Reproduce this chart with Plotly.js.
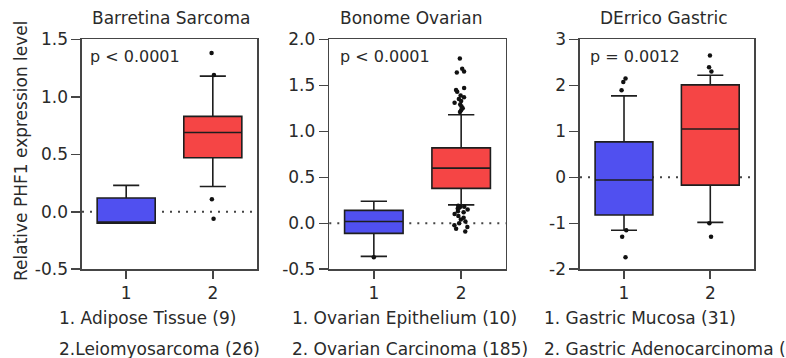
<!DOCTYPE html>
<html>
<head>
<meta charset="utf-8">
<script src="https://cdn.plot.ly/plotly-3.0.1.min.js"></script>
<style>
  html, body { margin: 0; padding: 0; background: #fff; }
  #chart { width: 786px; height: 358px; }
</style>
</head>
<body>
<div id="chart"></div>
<script>
// ---------- data ----------
const categories = [1, 2];
const tickLabels = ['1', '2'];
const panelTitles = ['Barretina Sarcoma', 'Bonome Ovarian', 'DErrico Gastric'];
const pValueTexts = ['p < 0.0001', 'p < 0.0001', 'p = 0.0012'];
const yAxisTitle = 'Relative PHF1 expression level';
const groupLabels1 = ['1. Adipose Tissue (9)', '1. Ovarian Epithelium (10)', '1. Gastric Mucosa (31)'];
const groupLabels2 = ['2.Leiomyosarcoma (26)', '2. Ovarian Carcinoma (185)', '2. Gastric Adenocarcinoma ('];

// Barretina Sarcoma (category 1, category 2)
const barretinaLower  = [-0.10, 0.22];
const barretinaQ1     = [-0.10, 0.47];
const barretinaMedian = [-0.09, 0.69];
const barretinaQ3     = [0.12, 0.83];
const barretinaUpper  = [0.23, 1.18];
const barretinaOutliers1 = [];
const barretinaOutliers2 = [1.38, 1.19, 0.11, -0.06];

// Bonome Ovarian
const bonomeLower  = [-0.36, 0.20];
const bonomeQ1     = [-0.11, 0.38];
const bonomeMedian = [0.02, 0.60];
const bonomeQ3     = [0.14, 0.82];
const bonomeUpper  = [0.24, 1.18];
const bonomeOutliers1 = [-0.37];
const bonomeOutliers2 = [1.79, 1.68, 1.65, 1.64, 1.47, 1.45, 1.43, 1.39, 1.37, 1.35, 1.33, 1.31, 1.29, 1.27, 1.25, 1.23, 1.21,
                         0.19, 0.18, 0.18, 0.17, 0.16, 0.15, 0.13, 0.12, 0.10, 0.08, 0.06, 0.04, 0.02, 0.00, -0.02, -0.04, -0.06, -0.09];

// DErrico Gastric
const derricoLower  = [-1.15, -0.98];
const derricoQ1     = [-0.82, -0.17];
const derricoMedian = [-0.06, 1.05];
const derricoQ3     = [0.77, 2.01];
const derricoUpper  = [1.77, 2.22];
const derricoOutliers1 = [2.15, 2.07, 1.89, -1.15, -1.29, -1.74];
const derricoOutliers2 = [2.65, 2.39, 2.30, -1.00, -1.29];

const yRanges = [[-0.5, 1.5], [-0.5, 2.0], [-2, 3]];
const yTicks = [[-0.5, 0, 0.5, 1.0, 1.5], [-0.5, 0, 0.5, 1.0, 1.5, 2.0], [-2, -1, 0, 1, 2, 3]];
const yTickText = [['-0.5', '0.0', '0.5', '1.0', '1.5'], ['-0.5', '0.0', '0.5', '1.0', '1.5', '2.0'], ['-2', '-1', '0', '1', '2', '3']];

// ---------- styling ----------
const boxColors = ['#5050f0', '#f54545'];
const ink = '#2a2a2a';
const frame = '#454545';
const FONT = 'DejaVu Sans, Arial, sans-serif';
const W = 786, H = 358;
const xDomPx = [[82, 257], [329.3, 505.7], [580, 754.3]];
const yDomPx = [39.3, 269.3];
const titleXPx = [171, 410.5, 664];
const pTextXPx = [88, 338, 588];
const labelXPx = [57, 290, 542];

const panels = [
  {lo: barretinaLower, q1: barretinaQ1, med: barretinaMedian, q3: barretinaQ3, hi: barretinaUpper, out: [barretinaOutliers1, barretinaOutliers2], jit: [0, 0.05]},
  {lo: bonomeLower, q1: bonomeQ1, med: bonomeMedian, q3: bonomeQ3, hi: bonomeUpper, out: [bonomeOutliers1, bonomeOutliers2], jit: [0, 0.35]},
  {lo: derricoLower, q1: derricoQ1, med: derricoMedian, q3: derricoQ3, hi: derricoUpper, out: [derricoOutliers1, derricoOutliers2], jit: [0.1, 0.05]}
];

const traces = [];
const layout = {
  width: W, height: H,
  margin: {l: 0, r: 0, t: 0, b: 0},
  paper_bgcolor: '#fff', plot_bgcolor: '#fff',
  showlegend: false,
  boxmode: 'overlay',
  font: {family: FONT, size: 17, color: ink},
  annotations: [], shapes: []
};

panels.forEach((p, k) => {
  const sfx = k === 0 ? '' : String(k + 1);
  const xa = 'x' + sfx, ya = 'y' + sfx;
  categories.forEach((c, i) => {
    traces.push({
      type: 'box', xaxis: xa, yaxis: ya,
      x: [c], q1: [p.q1[i]], median: [p.med[i]], q3: [p.q3[i]],
      lowerfence: [p.lo[i]], upperfence: [p.hi[i]],
      fillcolor: boxColors[i], line: {color: '#1e1e1e', width: 1.6},
      width: 0.67, whiskerwidth: 0.45, boxpoints: false,
      hoverinfo: 'skip', showlegend: false
    });
    const outs = p.out[i];
    if (outs.length) {
      traces.push({
        type: 'box', xaxis: xa, yaxis: ya,
        x: outs.map(() => c), y: outs,
        boxpoints: 'all', jitter: p.jit[i], pointpos: 0,
        fillcolor: 'rgba(0,0,0,0)', line: {color: 'rgba(0,0,0,0)', width: 0},
        marker: {color: '#111', size: 4.5},
        width: 0.67, hoverinfo: 'skip', showlegend: false
      });
    }
  });
  layout['xaxis' + sfx] = {
    domain: [xDomPx[k][0] / W, xDomPx[k][1] / W],
    anchor: ya, range: [0.49, 2.51],
    tickvals: categories, ticktext: tickLabels,
    ticks: 'outside', ticklen: 8, tickwidth: 1.6, tickcolor: frame,
    showline: true, linecolor: frame, linewidth: 1.6, mirror: true,
    showgrid: false, zeroline: false, fixedrange: true,
    tickfont: {family: FONT, size: 17, color: ink}
  };
  layout['yaxis' + sfx] = {
    domain: [(H - yDomPx[1]) / H, (H - yDomPx[0]) / H],
    anchor: xa, range: yRanges[k],
    tickvals: yTicks[k], ticktext: yTickText[k],
    ticks: 'outside', ticklen: 9, tickwidth: 1.6, tickcolor: frame,
    showline: true, linecolor: frame, linewidth: 1.6, mirror: true,
    showgrid: false, zeroline: false, fixedrange: true,
    tickfont: {family: FONT, size: 17, color: ink}
  };
  // dotted reference line at zero
  layout.shapes.push({
    type: 'line', layer: 'below', xref: xa + ' domain', yref: ya,
    x0: 0, x1: 1, y0: 0, y1: 0,
    line: {color: '#444', width: 2, dash: '2px,6px'}
  });
  layout.annotations.push({
    text: panelTitles[k], xref: 'paper', yref: 'paper',
    x: titleXPx[k] / W, y: (H - 18) / H, xanchor: 'center', yanchor: 'middle',
    showarrow: false, font: {family: FONT, size: 17, color: ink}
  });
  layout.annotations.push({
    text: pValueTexts[k], xref: 'paper', yref: 'paper',
    x: pTextXPx[k] / W, y: (H - 57) / H, xanchor: 'left', yanchor: 'middle',
    showarrow: false, font: {family: FONT, size: 16, color: ink}
  });
  layout.annotations.push({
    text: groupLabels1[k], xref: 'paper', yref: 'paper',
    x: labelXPx[k] / W, y: (H - 318) / H, xanchor: 'left', yanchor: 'middle',
    showarrow: false, font: {family: FONT, size: 17, color: ink}
  });
  layout.annotations.push({
    text: groupLabels2[k], xref: 'paper', yref: 'paper',
    x: labelXPx[k] / W, y: (H - 349) / H, xanchor: 'left', yanchor: 'middle',
    showarrow: false, font: {family: FONT, size: 17, color: ink}
  });
});

layout.annotations.push({
  text: yAxisTitle, xref: 'paper', yref: 'paper',
  x: 21 / W, y: (H - 151) / H, xanchor: 'center', yanchor: 'middle',
  textangle: -90, showarrow: false, font: {family: FONT, size: 17, color: ink}
});

Plotly.newPlot('chart', traces, layout, {staticPlot: true, displayModeBar: false});
</script>
</body>
</html>
